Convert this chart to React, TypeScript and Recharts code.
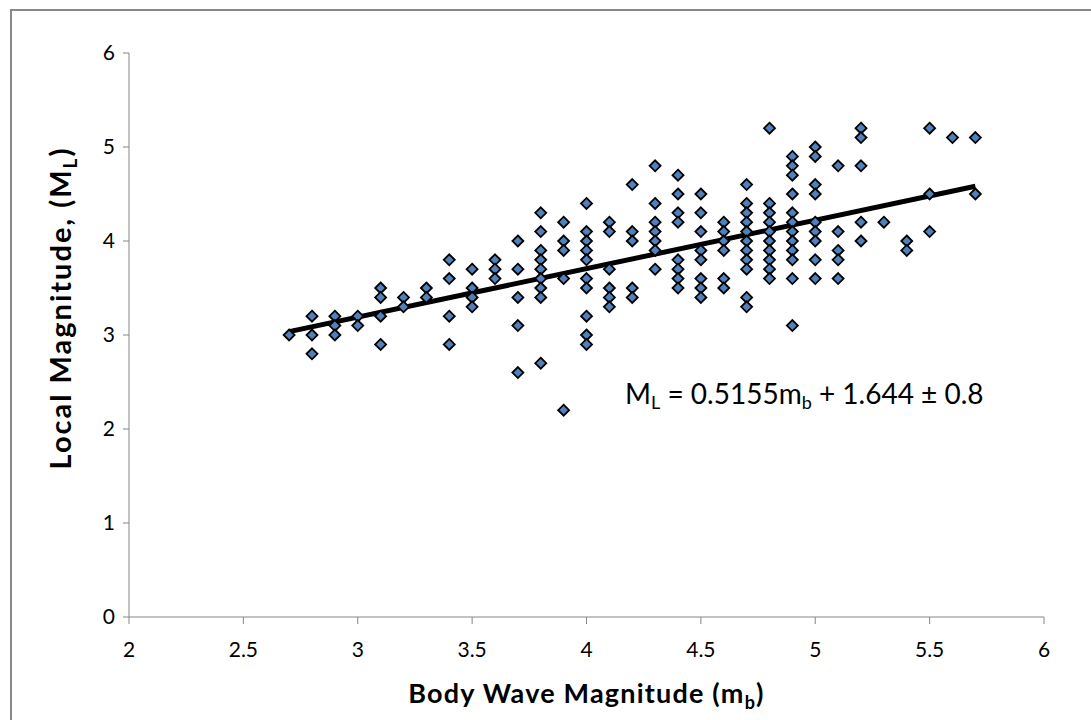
import React from "react";
import { ScatterChart, Scatter, XAxis, YAxis, ReferenceLine, Label } from "recharts";

// body wave magnitude columns and the local magnitudes read at each one
const mbColumns = [
  2.7, 2.8, 2.9, 3.0, 3.1, 3.2, 3.3, 3.4, 3.5, 3.6, 3.7, 3.8, 3.9, 4.0, 4.1, 4.2,
  4.3, 4.4, 4.5, 4.6, 4.7, 4.8, 4.9, 5.0, 5.1, 5.2, 5.3, 5.4, 5.5, 5.6, 5.7,
];
const mlByColumn = [
  [3.0],
  [3.2, 3.0, 2.8],
  [3.2, 3.1, 3.0],
  [3.2, 3.1],
  [3.5, 3.4, 3.2, 2.9],
  [3.4, 3.3],
  [3.5, 3.4],
  [3.8, 3.6, 3.2, 2.9],
  [3.7, 3.5, 3.4, 3.3],
  [3.8, 3.7, 3.6],
  [4.0, 3.7, 3.4, 3.1, 2.6],
  [4.3, 4.1, 3.9, 3.8, 3.7, 3.6, 3.5, 3.4, 2.7],
  [4.2, 4.0, 3.9, 3.6, 2.2],
  [4.4, 4.1, 4.0, 3.9, 3.8, 3.6, 3.5, 3.2, 3.0, 2.9],
  [4.2, 4.1, 3.7, 3.5, 3.4, 3.3],
  [4.6, 4.1, 4.0, 3.5, 3.4],
  [4.8, 4.4, 4.2, 4.1, 4.0, 3.9, 3.7],
  [4.7, 4.5, 4.3, 4.2, 3.8, 3.7, 3.6, 3.5],
  [4.5, 4.3, 4.1, 3.9, 3.8, 3.6, 3.5, 3.4],
  [4.2, 4.1, 4.0, 3.9, 3.6, 3.5],
  [4.6, 4.4, 4.3, 4.2, 4.1, 4.0, 3.9, 3.8, 3.7, 3.4, 3.3],
  [5.2, 4.4, 4.3, 4.2, 4.1, 4.0, 3.9, 3.8, 3.7, 3.6],
  [4.9, 4.8, 4.7, 4.5, 4.3, 4.2, 4.1, 4.0, 3.9, 3.8, 3.6, 3.1],
  [5.0, 4.9, 4.6, 4.5, 4.2, 4.1, 4.0, 3.8, 3.6],
  [4.8, 4.1, 3.9, 3.8, 3.6],
  [5.2, 5.1, 4.8, 4.2, 4.0],
  [4.2],
  [4.0, 3.9],
  [5.2, 4.5, 4.1],
  [5.1],
  [5.1, 4.5],
];

const xTicks = [2, 2.5, 3, 3.5, 4, 4.5, 5, 5.5, 6];
const yTicks = [0, 1, 2, 3, 4, 5, 6];

// fitted line as printed on the chart
const fitSlope = 0.5155;
const fitIntercept = 1.644;
const fitSpread = 0.8;

const points = mbColumns.flatMap((mb, i) => mlByColumn[i].map((ml) => ({ mb, ml })));
const mbMin = Math.min(...mbColumns);
const mbMax = Math.max(...mbColumns);

const font = "Lato, 'Open Sans', sans-serif";
const axisGrey = "#868686";

function Diamond(props: any) {
  const { cx, cy } = props;
  const r = 5.5;
  return (
    <path
      d={`M${cx},${cy - r}L${cx + r},${cy}L${cx},${cy + r}L${cx - r},${cy}Z`}
      fill="#4F81BD"
      stroke="#000"
      strokeWidth={1.8}
    />
  );
}

function XTitle({ viewBox }: any) {
  const cx = viewBox.x + viewBox.width / 2;
  return (
    <text
      x={cx}
      y={703}
      textAnchor="middle"
      fontFamily={font}
      fontWeight={700}
      fontSize={27}
      letterSpacing={1.2}
      fill="#000"
    >
      Body Wave Magnitude (m
      <tspan fontSize={18} dy={6}>b</tspan>
      <tspan dy={-6}>)</tspan>
    </text>
  );
}

function YTitle() {
  const cx = 71;
  const cy = 308;
  return (
    <text
      x={cx}
      y={cy}
      transform={`rotate(-90, ${cx}, ${cy})`}
      textAnchor="middle"
      fontFamily={font}
      fontWeight={700}
      fontSize={29}
      letterSpacing={2}
      fill="#000"
    >
      Local Magnitude, (M
      <tspan fontSize={19} dy={6}>L</tspan>
      <tspan dy={-6}>)</tspan>
    </text>
  );
}

export default function App() {
  return (
    <div style={{ position: "absolute", left: 0, top: 0, width: 1091, height: 720, background: "#fff", overflow: "hidden" }}>
      <div
        style={{
          position: "absolute",
          left: 10,
          top: 9,
          width: 1090,
          height: 720,
          border: "2px solid #898989",
          boxSizing: "border-box",
        }}
      />
      <ScatterChart
        width={1091}
        height={720}
        margin={{ top: 53, right: 47, bottom: 23, left: 69 }}
        style={{ position: "absolute", left: 0, top: 0 }}
      >
        <XAxis
          type="number"
          dataKey="mb"
          domain={[2, 6]}
          ticks={xTicks}
          interval={0}
          height={80}
          stroke={axisGrey}
          tickSize={7}
          tickMargin={18}
          tick={{ fill: "#000", fontSize: 21, fontFamily: font }}
        >
          <Label content={<XTitle />} />
        </XAxis>
        <YAxis
          type="number"
          dataKey="ml"
          domain={[0, 6]}
          ticks={yTicks}
          interval={0}
          width={60}
          stroke={axisGrey}
          tickSize={6}
          tickMargin={8}
          tick={{ fill: "#000", fontSize: 21, fontFamily: font }}
        >
          <Label content={<YTitle />} />
        </YAxis>
        <Scatter data={points} shape={<Diamond />} isAnimationActive={false} />
        <ReferenceLine
          segment={[
            { x: mbMin, y: fitSlope * mbMin + fitIntercept },
            { x: mbMax, y: fitSlope * mbMax + fitIntercept },
          ]}
          stroke="#000"
          strokeWidth={5}
        />
      </ScatterChart>
      <div
        style={{
          position: "absolute",
          left: 625,
          top: 377,
          fontFamily: font,
          fontSize: 28,
          lineHeight: "32px",
          color: "#000",
          whiteSpace: "nowrap",
        }}
      >
        M<sub style={{ fontSize: 18, verticalAlign: "-5px" }}>L</sub> = {fitSlope}m
        <sub style={{ fontSize: 18, verticalAlign: "-5px" }}>b</sub> + {fitIntercept} ± {fitSpread}
      </div>
    </div>
  );
}
